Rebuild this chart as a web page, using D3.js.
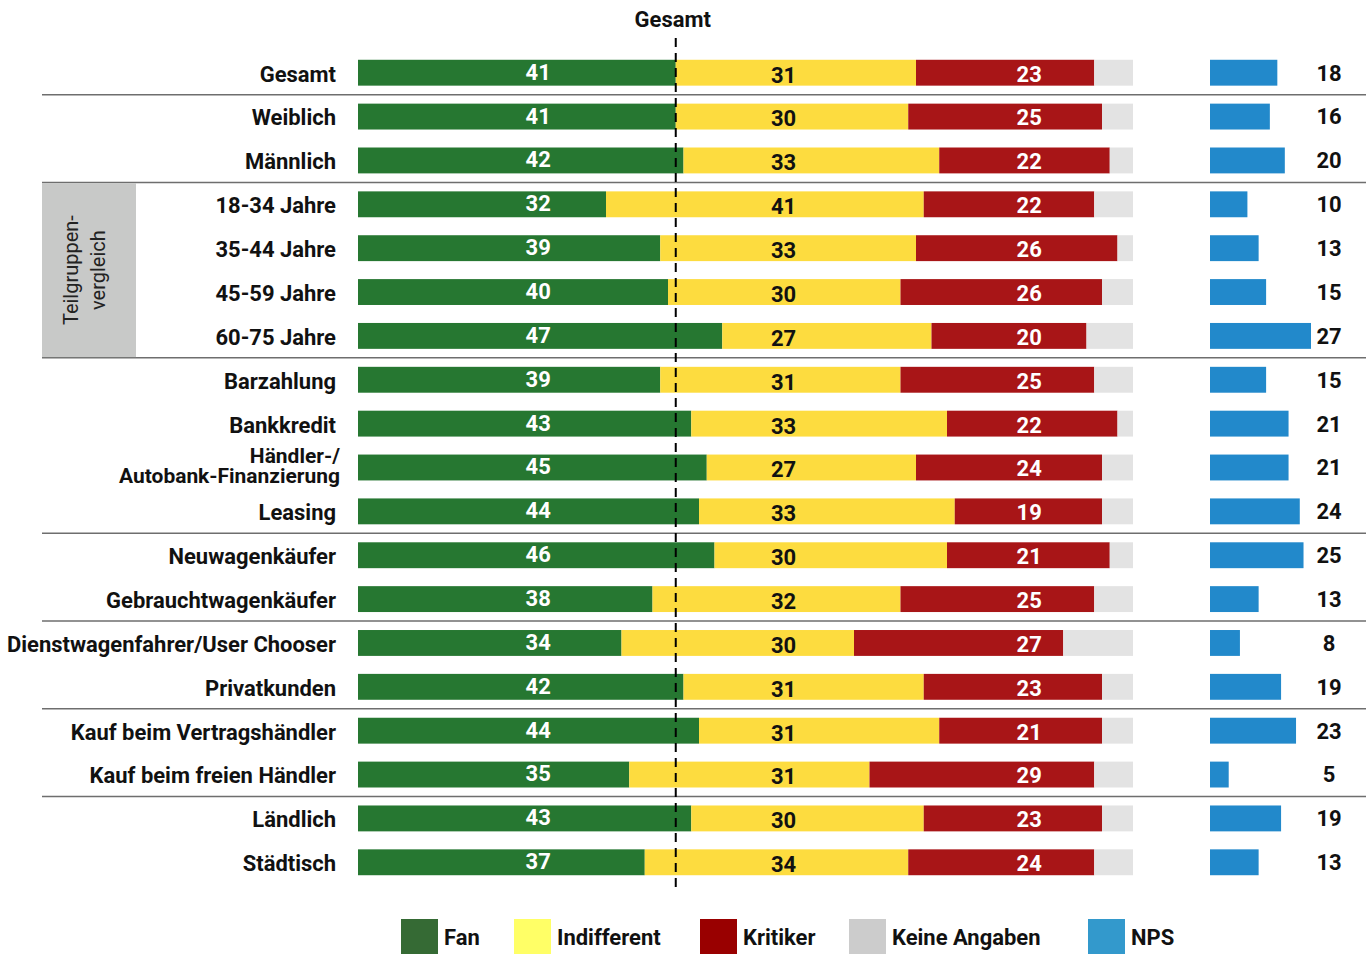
<!DOCTYPE html>
<html>
<head>
<meta charset="utf-8">
<script src="https://cdn.jsdelivr.net/npm/d3@7"></script>
<style>
  body { margin: 0; background: #fff; }
  text { font-family: Roboto, "Noto Sans", sans-serif; font-weight: bold; }
</style>
</head>
<body>
<div class="chart"></div>
<script>
// Data
const categories = ["Gesamt", "Weiblich", "Männlich", "18-34 Jahre", "35-44 Jahre", "45-59 Jahre", "60-75 Jahre",
  "Barzahlung", "Bankkredit", "Händler-/\nAutobank-Finanzierung", "Leasing", "Neuwagenkäufer", "Gebrauchtwagenkäufer",
  "Dienstwagenfahrer/User Chooser", "Privatkunden", "Kauf beim Vertragshändler", "Kauf beim freien Händler",
  "Ländlich", "Städtisch"];
const fan =         [41, 41, 42, 32, 39, 40, 47, 39, 43, 45, 44, 46, 38, 34, 42, 44, 35, 43, 37];
const indifferent = [31, 30, 33, 41, 33, 30, 27, 31, 33, 27, 33, 30, 32, 30, 31, 31, 31, 30, 34];
const kritiker =    [23, 25, 22, 22, 26, 26, 20, 25, 22, 24, 19, 21, 25, 27, 23, 21, 29, 23, 24];
const keineAngaben = [5, 4, 3, 5, 2, 4, 6, 5, 2, 4, 4, 3, 5, 9, 4, 4, 5, 4, 5];
const nps =         [18, 16, 20, 10, 13, 15, 27, 15, 21, 21, 24, 25, 13, 8, 19, 23, 5, 19, 13];
const gesamtFan = 41;
// separators drawn after these row indices
const groupEnds = [0, 2, 6, 10, 12, 14, 16];
const subgroupRows = [3, 6]; // "Teilgruppenvergleich" box
const seriesNames = ["Fan", "Indifferent", "Kritiker", "Keine Angaben", "NPS"];

const width = 1371, height = 954;
const barColors = ["#267731", "#fddc3f", "#a81517", "#e3e3e3"];
const legendColors = ["#356a34", "#ffff66", "#990000", "#cccccc", "#3399cc"];
const npsColor = "#2289cb";

const svg = d3.select(".chart").append("svg")
  .attr("width", width).attr("height", height);

const y = d3.scaleBand()
  .domain(d3.range(categories.length))
  .range([51, 884])
  .paddingInner(0.41)
  .paddingOuter(0.2);

const x = d3.scaleLinear().domain([0, 100]).range([358, 1133]);
const xNps = d3.scaleLinear().domain([0, 27]).range([1210, 1311]);

const rows = categories.map((c, i) => ({
  i, label: c,
  segs: [fan[i], indifferent[i], kritiker[i], keineAngaben[i]]
}));

// group separators
groupEnds.forEach(i => {
  const yy = (y(i) + y.bandwidth() + y(i + 1)) / 2;
  svg.append("line")
    .attr("x1", 42).attr("x2", 1366)
    .attr("y1", yy).attr("y2", yy)
    .attr("stroke", "#6e6e6e").attr("stroke-width", 1.5);
});

// subgroup box
const boxTop = (y(subgroupRows[0] - 1) + y.bandwidth() + y(subgroupRows[0])) / 2 + 0.75;
const boxBot = (y(subgroupRows[1]) + y.bandwidth() + y(subgroupRows[1] + 1)) / 2 - 0.75;
svg.append("rect")
  .attr("x", 42).attr("y", boxTop).attr("width", 94).attr("height", boxBot - boxTop)
  .attr("fill", "#c8c9c8");
const boxText = svg.append("text")
  .attr("class", "plain")
  .attr("transform", `translate(78, ${(boxTop + boxBot) / 2}) rotate(-90)`)
  .attr("text-anchor", "middle")
  .style("font-weight", "normal")
  .attr("font-size", 20)
  .attr("fill", "#222");
boxText.append("tspan").attr("x", 0).attr("dy", 0).text("Teilgruppen-");
boxText.append("tspan").attr("x", 0).attr("dy", 27).text("vergleich");

// bars
const rowG = svg.selectAll(".row").data(rows).join("g")
  .attr("class", "row")
  .attr("transform", d => `translate(0, ${y(d.i)})`);

rowG.selectAll("rect.seg")
  .data(d => {
    let acc = 0;
    return d.segs.map((v, k) => { const s = { k, v, x0: acc }; acc += v; return s; });
  })
  .join("rect")
  .attr("class", "seg")
  .attr("x", s => x(s.x0))
  .attr("width", s => x(s.x0 + s.v) - x(s.x0))
  .attr("height", y.bandwidth())
  .attr("fill", s => barColors[s.k]);

// segment labels at fixed columns
const labelPos = [23.25, 54.9, 86.6];
const labelDy = [-1, 2, 1];
const labelFill = ["#fff", "#111", "#fff"];
[0, 1, 2].forEach(k => {
  rowG.append("text")
    .attr("x", x(labelPos[k]))
    .attr("y", y.bandwidth() / 2 + labelDy[k])
    .attr("dy", "0.36em")
    .attr("text-anchor", "middle")
    .attr("font-size", 22)
    .attr("fill", labelFill[k])
    .text(d => d.segs[k]);
});

// category labels
rowG.each(function(d) {
  const g = d3.select(this);
  const lines = d.label.split("\n");
  const t = g.append("text")
    .attr("x", lines.length > 1 ? 340 : 336)
    .attr("y", y.bandwidth() / 2 + 1)
    .attr("text-anchor", "end")
    .attr("font-size", lines.length > 1 ? 21 : 22)
    .attr("fill", "#111");
  if (lines.length === 1) {
    t.attr("dy", "0.36em").text(d.label);
  } else {
    lines.forEach((l, j) => {
      t.append("tspan").attr("x", 340)
        .attr("dy", j === 0 ? "-0.25em" : "0.92em").text(l);
    });
  }
});

// NPS bars and values
rowG.append("rect")
  .attr("x", xNps(0))
  .attr("width", d => xNps(nps[d.i]) - xNps(0))
  .attr("height", y.bandwidth())
  .attr("fill", npsColor);
rowG.append("text")
  .attr("x", 1329)
  .attr("y", y.bandwidth() / 2)
  .attr("dy", "0.36em")
  .attr("text-anchor", "middle")
  .attr("font-size", 22)
  .attr("fill", "#111")
  .text(d => nps[d.i]);

// Gesamt reference line
svg.append("line")
  .attr("x1", x(gesamtFan)).attr("x2", x(gesamtFan))
  .attr("y1", 38).attr("y2", 893)
  .attr("stroke", "#000").attr("stroke-width", 2)
  .attr("stroke-dasharray", "9,6");
svg.append("text")
  .attr("x", x(gesamtFan) - 3).attr("y", 19)
  .attr("dy", "0.36em")
  .attr("text-anchor", "middle")
  .attr("font-size", 22)
  .attr("fill", "#111")
  .text("Gesamt");

// legend
const legendX = [401, 514, 700, 849, 1088];
const legend = svg.selectAll(".legend").data(seriesNames).join("g")
  .attr("class", "legend")
  .attr("transform", (d, i) => `translate(${legendX[i]}, 919)`);
legend.append("rect")
  .attr("width", 37).attr("height", 35)
  .attr("fill", (d, i) => legendColors[i]);
legend.append("text")
  .attr("x", 43).attr("y", 18)
  .attr("dy", "0.36em")
  .attr("font-size", 22)
  .attr("fill", "#111")
  .text(d => d);

// condense the bold labels to mimic the narrow typeface
let widest = 0;
rowG.filter(d => d.i === 13).selectAll("text").each(function() {
  if (this.textContent === categories[13]) widest = this.getComputedTextLength();
});
const condense = widest ? 329 / widest : 0.85;
svg.selectAll("text:not(.plain)").each(function() {
  const el = d3.select(this);
  const parts = el.selectAll("tspan");
  const targets = parts.empty() ? [this] : parts.nodes();
  targets.forEach(n => {
    const len = n.getComputedTextLength();
    d3.select(n).attr("textLength", len * condense).attr("lengthAdjust", "spacingAndGlyphs");
  });
});
</script>
</body>
</html>
